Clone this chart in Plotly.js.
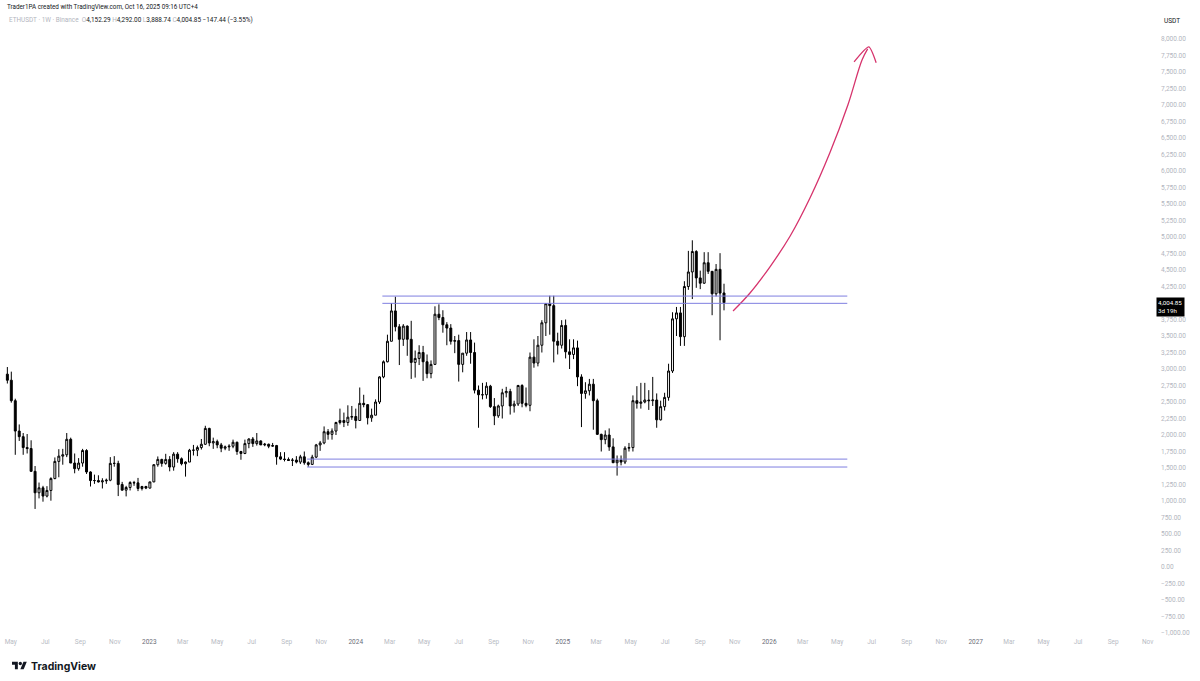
<!DOCTYPE html>
<html>
<head>
<meta charset="utf-8">
<script src="https://cdn.plot.ly/plotly-3.0.1.min.js"></script>
<style>html,body{margin:0;padding:0;background:#fff;}#chart{width:1200px;height:681px;}</style>
</head>
<body>
<div id="chart"></div>
<script>
// ---- Data: ETHUSDT weekly candles (Binance), weeks starting Monday ----
const firstWeek = '2022-04-25';
const opens = [
2922,2830,2520,2060,1975,1810,1795,1450,1125,1200,1075,1160,1340,1600,1680,1700,1935,1575,1490,1575,1765,1440,1310,1310,1290,1305,1315,1570,1570,1250,1165,1205,1280,1275,1190,1220,
1196,1290,1550,1630,1570,1630,1515,1710,1640,1565,1590,1770,1770,1810,1860,2100,1880,1900,1850,1800,1820,1830,1890,1750,1720,1870,1940,1870,1910,1850,1860,1830,1840,1670,1635,1630,1615,1620,1590,1670,1580,1555,1665,1850,1880,2050,2010,2060,2190,2220,2190,2270,
2280,2220,2480,2460,2260,2300,2500,2880,3110,3420,3880,3640,3450,3650,3450,3100,3160,3250,3110,2930,3070,3830,3780,3670,3620,3420,3430,3070,3240,3440,3250,2680,2610,2610,2740,2430,2290,2440,2640,2660,2440,2470,2750,2480,2450,3180,3090,3360,3700,3990,3960,3420,3360,
3660,3260,3220,3320,2880,2630,2670,2770,2520,2010,1930,2000,1820,1580,1620,1590,1800,1810,2520,2480,2500,2530,2520,2530,2230,2430,2570,2970,3760,3850,3490,4250,4470,4780,4380,4300,4610,4480,4140,4510,4152.29
];
const highs = [
3030,2960,2550,2160,2030,2015,1920,1530,1280,1230,1225,1360,1660,1785,1790,2030,1960,1720,1650,1790,1785,1450,1400,1390,1345,1340,1665,1680,1610,1290,1230,1300,1305,1350,1230,1230,
1290,1560,1675,1640,1715,1680,1740,1740,1660,1600,1790,1850,1840,1940,2140,2110,1960,1930,1880,1840,1860,1930,1900,1760,1930,1950,1970,2030,1920,1880,1870,1880,1850,1740,1740,1660,1650,1680,1700,1750,1600,1700,1865,1910,2130,2090,2100,2200,2400,2340,2450,2440,
2400,2720,2610,2470,2400,2540,2890,3130,3520,4000,4095,3680,3680,3660,3730,3280,3360,3350,3220,3130,3950,3980,3890,3710,3680,3500,3520,3240,3560,3560,3400,2750,2790,2800,2760,2560,2460,2700,2730,2700,2520,2760,2770,2720,3250,3450,3500,3740,4000,4110,4110,3550,3740,
3750,3450,3450,3430,2920,2800,2850,2850,2550,2020,2070,2100,1950,1690,1690,1830,1880,2600,2740,2790,2790,2680,2880,2630,2520,2640,3080,3860,3940,3940,4330,4790,4950,4800,4490,4770,4770,4480,4590,4755,4292.00
];
const lows = [
2780,2490,1700,1910,1700,1720,1440,880,1040,990,1055,1005,1330,1360,1550,1665,1575,1420,1460,1520,1410,1220,1260,1280,1190,1260,1300,1520,1075,1160,1070,1160,1230,1150,1160,1180,
1190,1285,1520,1520,1550,1450,1460,1580,1540,1370,1590,1690,1680,1780,1850,1830,1790,1800,1740,1770,1760,1800,1700,1625,1710,1800,1820,1840,1850,1830,1800,1820,1550,1620,1600,1610,1530,1570,1560,1550,1520,1545,1650,1760,1860,1930,1930,2000,2160,2120,2140,2230,
2100,2220,2420,2160,2200,2300,2470,2860,3100,3420,3570,3060,3350,3200,2850,2870,3060,2820,2860,2860,3060,3740,3550,3360,3370,3240,2810,2950,3200,3080,2630,2110,2540,2550,2410,2150,2260,2250,2570,2310,2340,2440,2420,2420,2360,3020,3040,3250,3500,3520,3100,3220,3310,
3160,3000,3150,2740,2120,2550,2600,2080,2000,1750,1860,1760,1750,1385,1540,1560,1750,1750,2400,2400,2480,2380,2440,2110,2220,2370,2520,2940,3500,3350,3350,4200,4060,4230,4210,4290,4440,3815,4100,3435,3888.74
];
const closes = [
2830,2520,2060,1975,1810,1795,1450,1125,1200,1075,1160,1340,1600,1680,1700,1935,1575,1490,1575,1765,1440,1310,1310,1290,1305,1315,1570,1570,1250,1165,1205,1280,1275,1190,1220,1196,
1290,1550,1630,1570,1630,1515,1710,1640,1565,1590,1770,1770,1810,1860,2100,1880,1900,1850,1800,1820,1830,1890,1750,1720,1870,1940,1870,1910,1850,1860,1830,1840,1670,1635,1630,1615,1620,1590,1670,1580,1555,1665,1850,1880,2050,2010,2060,2190,2220,2190,2270,2280,
2220,2480,2460,2260,2300,2500,2880,3110,3420,3880,3640,3450,3650,3450,3100,3160,3250,3110,2930,3070,3830,3780,3670,3620,3420,3430,3070,3240,3440,3250,2680,2610,2610,2740,2430,2290,2440,2640,2660,2440,2470,2750,2480,2450,3180,3090,3360,3700,3990,3960,3420,3360,3660,
3260,3220,3320,2880,2630,2670,2770,2520,2010,1930,2000,1820,1580,1620,1590,1800,1810,2520,2480,2500,2530,2520,2530,2230,2430,2570,2970,3760,3850,3490,4250,4470,4780,4380,4300,4610,4480,4140,4510,4150,4004.85
];

// Drawn levels (horizontal channel lines)
const resistanceLevels = [4105, 3995];
const supportLevels = [1635, 1515];
const resistanceStart = '2024-02-17';
const supportStart = '2023-10-07';
const levelsEnd = '2026-05-19';

// Hand-drawn projection arrow
const arrowDates = ['2025-10-29','2025-11-28','2026-01-02','2026-02-07','2026-03-14','2026-04-18','2026-05-20','2026-06-14','2026-06-24'];
const arrowPrices = [3879,4152,4545,5015,5591,6273,7000,7682,7850];
const arrowHeadDates = ['2026-05-31','2026-06-26','2026-07-09'];
const arrowHeadPrices = [7652,7879,7640];

// Time-axis ticks
const tickDates = ['2022-05-01','2022-07-01','2022-09-01','2022-11-01','2023-01-01','2023-03-01','2023-05-01','2023-07-01','2023-09-01','2023-11-01','2024-01-01','2024-03-01','2024-05-01','2024-07-01','2024-09-01','2024-11-01','2025-01-01','2025-03-01','2025-05-01','2025-07-01','2025-09-01','2025-11-01','2026-01-01','2026-03-01','2026-05-01','2026-07-01','2026-09-01','2026-11-01','2027-01-01','2027-03-01','2027-05-01','2027-07-01','2027-09-01','2027-11-01'];
const tickLabels = ['May','Jul','Sep','Nov','2023','Mar','May','Jul','Sep','Nov','2024','Mar','May','Jul','Sep','Nov','2025','Mar','May','Jul','Sep','Nov','2026','Mar','May','Jul','Sep','Nov','2027','Mar','May','Jul','Sep','Nov'];

// Price-scale ticks (4,000.00 is hidden under the last-price label)
const priceTicks = [8000,7750,7500,7250,7000,6750,6500,6250,6000,5750,5500,5250,5000,4750,4500,4250,3750,3500,3250,3000,2750,2500,2250,2000,1750,1500,1250,1000,750,500,250,0,-250,-500,-750,-1000];

const lastPrice = '4,004.85';
const countdown = '3d 19h';

// ---- Build ----
const dates = [];
{
  const d0 = new Date(firstWeek + 'T00:00:00Z');
  for (let i = 0; i < opens.length; i++) {
    const d = new Date(d0.getTime() + i * 7 * 86400000);
    dates.push(d.toISOString().slice(0, 10));
  }
}

const W = 1200, H = 681, ML = 0, MR = 45, MT = 30, MB = 45;
const PW = W - ML - MR, PH = H - MT - MB;
const px = x => (x - ML) / PW;
const py = y => (H - MB - y) / PH;

const tickText = tickLabels.map(t => /^\d{4}$/.test(t) ? '<span style="color:#6a6d78">' + t + '</span>' : t);

const candles = {
  type: 'candlestick',
  x: dates, open: opens, high: highs, low: lows, close: closes,
  increasing: { line: { color: '#000000', width: 1 }, fillcolor: '#ffffff' },
  decreasing: { line: { color: '#000000', width: 1 }, fillcolor: '#000000' },
  whiskerwidth: 0,
  hoverinfo: 'skip',
  showlegend: false
};

const arrow = {
  type: 'scatter', mode: 'lines', x: arrowDates, y: arrowPrices,
  line: { color: '#d6336c', width: 1.3, shape: 'spline', smoothing: 1 },
  hoverinfo: 'skip', showlegend: false
};
const arrowHead = {
  type: 'scatter', mode: 'lines', x: arrowHeadDates, y: arrowHeadPrices,
  line: { color: '#d6336c', width: 1.3, shape: 'spline', smoothing: 0.6 },
  hoverinfo: 'skip', showlegend: false
};

const shapes = [];
resistanceLevels.forEach(v => shapes.push({ type: 'line', xref: 'x', yref: 'y', x0: resistanceStart, x1: levelsEnd, y0: v, y1: v, line: { color: '#7f7fe0', width: 1 } }));
supportLevels.forEach(v => shapes.push({ type: 'line', xref: 'x', yref: 'y', x0: supportStart, x1: levelsEnd, y0: v, y1: v, line: { color: '#7f7fe0', width: 1 } }));

const dk = '#131722', lt = '#b2b5be';
const fontFam = 'Roboto, "Open Sans", sans-serif';
const ohlcLine = '<span style="color:' + lt + '">ETHUSDT · 1W · Binance  O</span>4,152.29 <span style="color:' + lt + '">H</span>4,292.00 <span style="color:' + lt + '">L</span>3,888.74 <span style="color:' + lt + '">C</span>4,004.85 −147.44 (−3.55%)';

const logoSvg = '<svg xmlns="http://www.w3.org/2000/svg" viewBox="0 0 36 28"><path d="M14 22H7V11H0V4h14v18z" fill="#131722"/><circle cx="20" cy="8" r="4" fill="#131722"/><path d="M28 22h-8l7.5-18h8L28 22z" fill="#131722"/></svg>';

const annotations = [
  { xref: 'paper', yref: 'paper', x: px(5), y: py(7), xanchor: 'left', yanchor: 'middle', showarrow: false,
    text: 'Trader1PA created with TradingView.com, Oct 16, 2025 09:16 UTC+4', font: { family: fontFam, size: 6.3, color: dk } },
  { xref: 'paper', yref: 'paper', x: px(7), y: py(20), xanchor: 'left', yanchor: 'middle', showarrow: false,
    text: ohlcLine, font: { family: fontFam, size: 6.4, color: dk } },
  { xref: 'paper', yref: 'paper', x: px(1162), y: py(21), xanchor: 'left', yanchor: 'middle', showarrow: false,
    text: 'USDT', font: { family: fontFam, size: 6.5, color: dk } },
  { xref: 'paper', yref: 'paper', x: px(1156), y: py(306.5), xanchor: 'left', yanchor: 'middle', showarrow: false,
    text: lastPrice + '<br>' + countdown, align: 'left', bgcolor: '#000000', borderpad: 1, width: 25,
    font: { family: fontFam, size: 6.2, color: '#ffffff' } },
  { xref: 'paper', yref: 'paper', x: px(29), y: py(666), xanchor: 'left', yanchor: 'middle', showarrow: false,
    text: '<b>TradingView</b>', font: { family: 'Inter, Roboto, sans-serif', size: 10.5, color: dk } }
];

const layout = {
  width: W, height: H,
  margin: { l: ML, r: MR, t: MT, b: MB, pad: 0 },
  paper_bgcolor: '#ffffff', plot_bgcolor: '#ffffff',
  showlegend: false,
  xaxis: {
    type: 'date', range: ['2022-04-12', '2027-11-14'],
    rangeslider: { visible: false },
    showgrid: false, zeroline: false, showline: false, ticks: '',
    tickmode: 'array', tickvals: tickDates, ticktext: tickText,
    tickfont: { family: fontFam, size: 6.5, color: '#b8bbc4' },
    fixedrange: true
  },
  yaxis: {
    side: 'right', range: [-1045, 8136],
    tickmode: 'array', tickvals: priceTicks, tickformat: ',.2f',
    showgrid: false, zeroline: false, showline: false, ticks: '',
    ticklabelstandoff: 5,
    tickfont: { family: fontFam, size: 6.5, color: '#b2b5be' },
    fixedrange: true
  },
  shapes: shapes,
  annotations: annotations,
  images: [{ source: 'data:image/svg+xml;charset=utf-8,' + encodeURIComponent(logoSvg),
    xref: 'paper', yref: 'paper', x: px(12), y: py(660), sizex: 15 / PW, sizey: 12 / PH,
    xanchor: 'left', yanchor: 'top', sizing: 'contain', layer: 'above' }]
};

Plotly.newPlot('chart', [candles, arrow, arrowHead], layout, { displayModeBar: false, staticPlot: true, responsive: false });
</script>
</body>
</html>
